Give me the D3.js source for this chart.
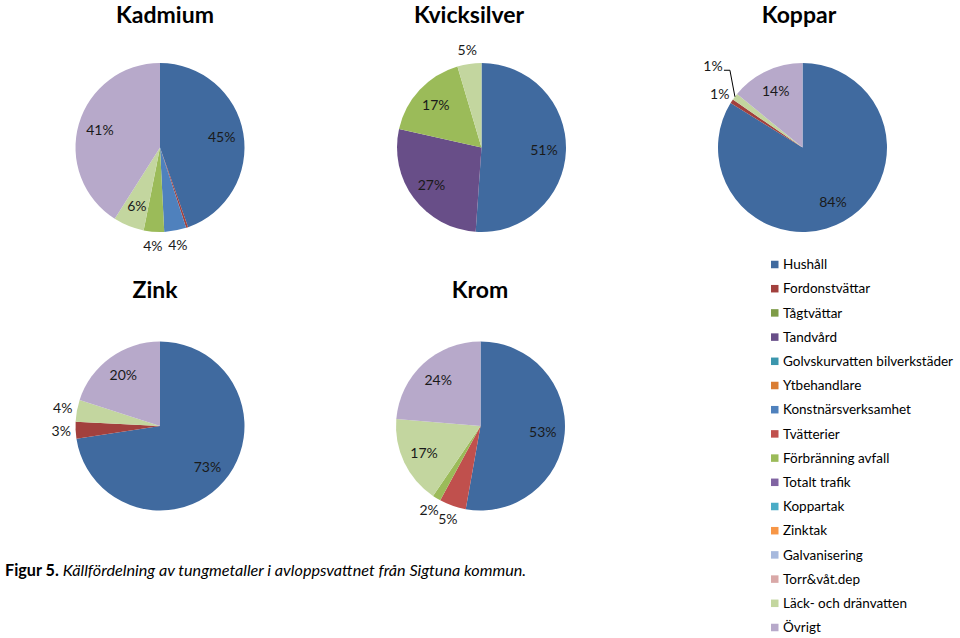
<!DOCTYPE html>
<html>
<head>
<meta charset="utf-8">
<script src="https://cdn.jsdelivr.net/npm/d3@7"></script>
<style>
  html, body { margin: 0; padding: 0; background: #fff; }
  svg { display: block; }
</style>
</head>
<body>
<svg id="chart" width="960" height="638"></svg>
<script>
// ---------- DATA ----------
const categories = [
  "Hushåll", "Fordonstvättar", "Tågtvättar", "Tandvård",
  "Golvskurvatten bilverkstäder", "Ytbehandlare", "Konstnärsverksamhet",
  "Tvätterier", "Förbränning avfall", "Totalt trafik", "Koppartak",
  "Zinktak", "Galvanisering", "Torr&våt.dep", "Läck- och dränvatten", "Övrigt"
];
const pieTitles = ["Kadmium", "Kvicksilver", "Koppar", "Zink", "Krom"];
// percent shares, aligned with categories
const kadmium     = [44.6, 0.4, 0, 0, 0, 0, 4.2, 0,   3.9,  0, 0, 0, 0, 0,  5.9, 41.0];
const kvicksilver = [51.1, 0,   0, 27.4, 0, 0, 0, 0,  16.9, 0, 0, 0, 0, 0,  4.6, 0];
const koppar      = [83.8, 0.8, 0, 0, 0, 0, 0,   0,   0,    0, 0, 0, 0, 0,  1.3, 14.1];
const zink        = [72.6, 3.2, 0, 0, 0, 0, 0,   0,   0,    0, 0, 0, 0, 0,  4.2, 20.0];
const krom        = [52.8, 0,   0, 0, 0, 0, 0,   5.1, 1.6,  0, 0, 0, 0, 0, 16.8, 23.7];
const pieValues = [kadmium, kvicksilver, koppar, zink, krom];
const captionBold = "Figur 5.";
const captionText = "Källfördelning av tungmetaller i avloppsvattnet från Sigtuna kommun.";

// ---------- STYLE / LAYOUT ----------
const colors = [
  "#406A9F", "#A2403D", "#7E9C48", "#684E88", "#3B96AD", "#DA7D33",
  "#4F81BD", "#C0504D", "#9BBB59", "#8064A2", "#4BACC6", "#F79646",
  "#A7B9DD", "#D9A8A7", "#C3D69F", "#B7A9CA"
];
const pieLayout = [
  { cx: 160,   cy: 147.5, tx: 165, ty: 23 },
  { cx: 481.5, cy: 147.5, tx: 469, ty: 23 },
  { cx: 802.5, cy: 147.5, tx: 799, ty: 23 },
  { cx: 160,   cy: 426,   tx: 155, ty: 298 },
  { cx: 480.5, cy: 426,   tx: 480, ty: 298 }
];
const radius = 84.5;
const font = "Lato, 'Open Sans', sans-serif";
// special leader-line label (Koppar, Läck- och dränvatten)
const leaderLabels = [{ pie: 2, cat: 14, dx: -22, dy: -30.5 }];

const svg = d3.select("#chart");
const color = d3.scaleOrdinal().domain(categories).range(colors);
const pie = d3.pie().sort(null).value(d => d.v);
const arc = d3.arc().innerRadius(0).outerRadius(radius);

pieValues.forEach((vals, pi) => {
  const L = pieLayout[pi];
  const data = vals.map((v, i) => ({ v, cat: categories[i], i })).filter(d => d.v > 0);
  const arcs = pie(data);
  const g = svg.append("g").attr("transform", `translate(${L.cx},${L.cy})`);

  g.selectAll("path").data(arcs).join("path")
    .attr("d", arc)
    .attr("fill", d => color(d.data.cat));

  svg.append("text")
    .attr("x", L.tx).attr("y", L.ty)
    .attr("text-anchor", "middle")
    .attr("font-family", font)
    .attr("font-weight", "bold")
    .attr("font-size", 23)
    .attr("fill", "#000")
    .text(pieTitles[pi]);

  arcs.forEach(a => {
    if (a.data.v < 0.5) return;
    const mid = (a.startAngle + a.endAngle) / 2;
    const outside = a.data.v < 5.5;
    const rr = radius * (outside ? 1.17 : 0.74);
    let x = Math.sin(mid) * rr, y = -Math.cos(mid) * rr;
    const lead = leaderLabels.find(l => l.pie === pi && l.cat === a.data.i);
    if (lead) {
      const ex = Math.sin(mid) * radius, ey = -Math.cos(mid) * radius;
      x = ex + lead.dx; y = ey + lead.dy;
      g.append("polyline")
        .attr("points", [[ex, ey], [ex - 5, y + 4], [x + 11, y + 4]].map(p => p.join(",")).join(" "))
        .attr("fill", "none").attr("stroke", "#000").attr("stroke-width", 1);
    }
    g.append("text")
      .attr("x", x).attr("y", y)
      .attr("dy", "0.36em")
      .attr("text-anchor", "middle")
      .attr("font-family", font)
      .attr("font-size", 14)
      .attr("fill", "#1a1a1a")
      .text(Math.round(a.data.v) + "%");
  });
});

// ---------- LEGEND ----------
const legend = svg.append("g").attr("transform", "translate(771,264.5)");
const rowH = 24.2;
const rows = legend.selectAll("g").data(categories).join("g")
  .attr("transform", (d, i) => `translate(0,${i * rowH})`);
rows.append("rect")
  .attr("x", 0).attr("y", -3.75).attr("width", 7.5).attr("height", 7.5)
  .attr("fill", d => color(d));
rows.append("text")
  .attr("x", 12).attr("y", 0).attr("dy", "0.35em")
  .attr("font-family", font).attr("font-size", 13.5).attr("fill", "#000")
  .text(d => d);

// ---------- CAPTION ----------
const cap = svg.append("text")
  .attr("x", 5).attr("y", 576)
  .attr("font-family", font).attr("font-size", 16.2).attr("fill", "#000");
cap.append("tspan").attr("font-weight", "bold").text(captionBold + " ");
cap.append("tspan").attr("font-style", "italic").text(captionText);
</script>
</body>
</html>
